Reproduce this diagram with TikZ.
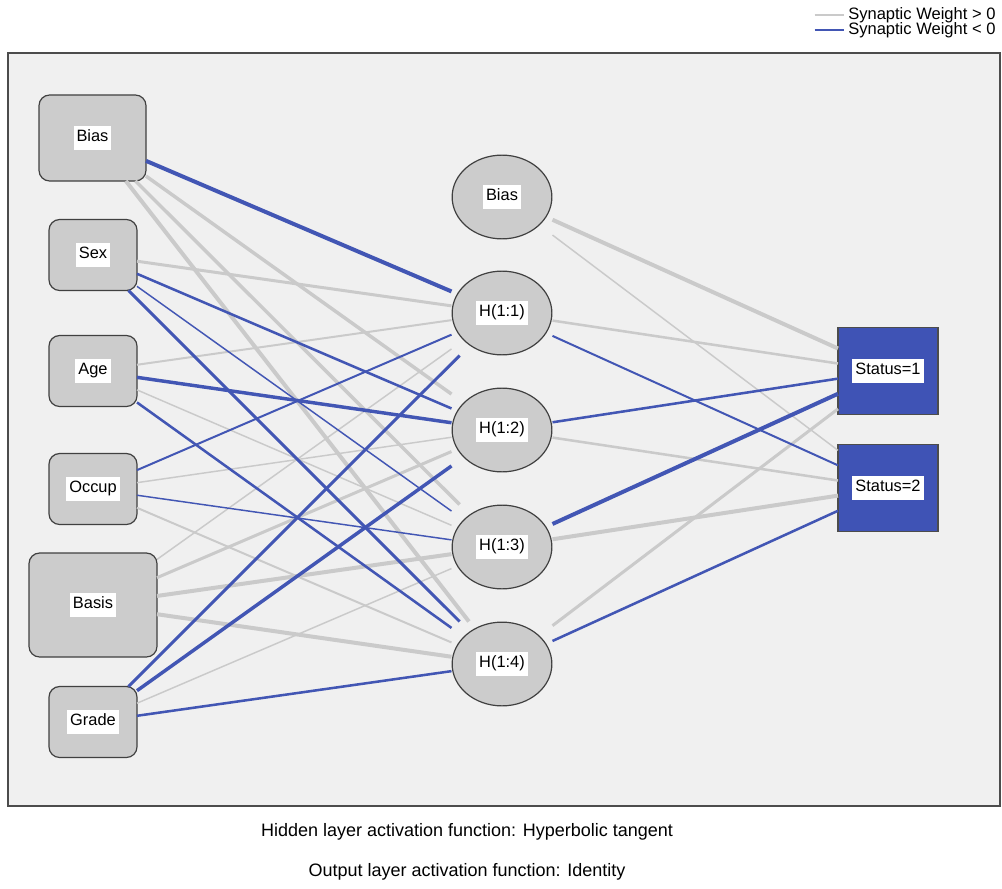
\documentclass[tikz,border=0pt]{standalone}
\usepackage{fontspec}
\setmainfont{Liberation Sans}
\usetikzlibrary{positioning}
\definecolor{panelbg}{RGB}{240,240,240}
\definecolor{nodefill}{RGB}{204,204,204}
\definecolor{poscol}{RGB}{202,202,202}
\definecolor{negcol}{RGB}{66,86,180}
\definecolor{outfill}{RGB}{63,83,181}
\newcommand{\wlabel}[1]{{\setlength{\fboxsep}{2.2pt}\colorbox{white}{\strut #1}}}

\begin{document}
\begin{tikzpicture}[x=0.75pt,y=-0.75pt,font=\fontsize{12.3}{14}\selectfont,
  inp/.style={rectangle,rounded corners=8pt,draw=black!75,fill=nodefill,
    line width=0.9pt,outer sep=0pt,inner sep=0pt},
  hid/.style={rectangle,minimum width=75.75pt,minimum height=63.75pt,
    outer sep=0pt,inner sep=0pt,
    path picture={\draw[draw=black!75,fill=nodefill,line width=0.9pt]
      (path picture bounding box.center) ellipse [x radius=37.4pt,y radius=31.4pt];}},
  outp/.style={rectangle,draw=black!70,fill=outfill,line width=0.9pt,
    minimum width=75pt,minimum height=65.25pt,outer sep=0pt,inner sep=0pt},
  pos/.style={draw=poscol,line width=#1},
  neg/.style={draw=negcol,line width=#1}]
  \fill[white] (0,0) rectangle (1002,888);
  \useasboundingbox (0,0) rectangle (1002,888);
  \draw[draw=black!70,fill=panelbg,line width=1.1pt] (8,53) rectangle (1000,806);

  % input layer
  \node[inp,minimum width=80.25pt,minimum height=64.5pt] (ib) at (92.5,138) {\wlabel{Bias}};
  \node[inp,minimum width=66pt,minimum height=53.25pt] (isex) at (93,255) {\wlabel{Sex}};
  \node[inp,minimum width=66pt,minimum height=53.25pt] (iage) at (93,371) {\wlabel{Age}};
  \node[inp,minimum width=66pt,minimum height=53.25pt] (iocc) at (93,489) {\wlabel{Occup}};
  \node[inp,minimum width=96pt,minimum height=78pt] (ibas) at (93,605) {\wlabel{Basis}};
  \node[inp,minimum width=66pt,minimum height=53.25pt] (igr) at (93,722) {\wlabel{Grade}};

  % hidden layer
  \node[hid] (hb) at (502,197) {\wlabel{Bias}};
  \node[hid] (h1) at (502,313) {\wlabel{H(1:1)}};
  \node[hid] (h2) at (502,430) {\wlabel{H(1:2)}};
  \node[hid] (h3) at (502,547) {\wlabel{H(1:3)}};
  \node[hid] (h4) at (502,664) {\wlabel{H(1:4)}};

  % output layer
  \node[outp] (o1) at (888,371) {\wlabel{Status=1}};
  \node[outp] (o2) at (888,488) {\wlabel{Status=2}};

  % weights > 0
  \draw[pos=2.6pt] (ib) -- (h2);
  \draw[pos=2.6pt] (ib) -- (h3);
  \draw[pos=3pt] (ib) -- (h4);
  \draw[pos=2.25pt] (isex) -- (h1);
  \draw[pos=1.5pt] (iage) -- (h1);
  \draw[pos=1.1pt] (iage) -- (h3);
  \draw[pos=1.1pt] (iocc) -- (h2);
  \draw[pos=1.5pt] (iocc) -- (h4);
  \draw[pos=1.1pt] (ibas) -- (h1);
  \draw[pos=2.25pt] (ibas) -- (h2);
  \draw[pos=3pt] (ibas) -- (h3);
  \draw[pos=3pt] (ibas) -- (h4);
  \draw[pos=1.1pt] (igr) -- (h3);
  \draw[pos=3pt] (hb) -- (o1);
  \draw[pos=1.1pt] (hb) -- (o2);
  \draw[pos=1.9pt] (h1) -- (o1);
  \draw[pos=1.9pt] (h2) -- (o2);
  \draw[pos=3pt] (h3) -- (o2);
  \draw[pos=2.25pt] (h4) -- (o1);

  % weights < 0
  \draw[neg=3pt] (ib) -- (h1);
  \draw[neg=1.9pt] (isex) -- (h2);
  \draw[neg=1.1pt] (isex) -- (h3);
  \draw[neg=2.25pt] (isex) -- (h4);
  \draw[neg=2.6pt] (iage) -- (h2);
  \draw[neg=1.9pt] (iage) -- (h4);
  \draw[neg=1.5pt] (iocc) -- (h1);
  \draw[neg=1.1pt] (iocc) -- (h3);
  \draw[neg=2.25pt] (igr) -- (h1);
  \draw[neg=2.6pt] (igr) -- (h2);
  \draw[neg=1.9pt] (igr) -- (h4);
  \draw[neg=1.5pt] (h1) -- (o2);
  \draw[neg=1.9pt] (h2) -- (o1);
  \draw[neg=3pt] (h3) -- (o1);
  \draw[neg=1.9pt] (h4) -- (o2);

  % legend
  \node[anchor=west,inner sep=0pt,font=\fontsize{12.4}{14}\selectfont] (lgpos) at (848,15) {Synaptic Weight > 0};
  \node[anchor=west,inner sep=0pt,font=\fontsize{12.4}{14}\selectfont] (lgneg) at (848,30) {Synaptic Weight < 0};
  \draw[pos=1.1pt] ([xshift=-25pt]lgpos.west) -- ([xshift=-3pt]lgpos.west);
  \draw[neg=1.5pt] ([xshift=-25pt]lgneg.west) -- ([xshift=-3pt]lgneg.west);

  % activation functions
  \node[font=\fontsize{13.5}{16}\selectfont] (capH) at (467,832) {Hidden layer activation function: Hyperbolic tangent};
  \node[font=\fontsize{13.5}{16}\selectfont] (capO) at (467,872) {Output layer activation function: Identity};
\end{tikzpicture}
\end{document}
